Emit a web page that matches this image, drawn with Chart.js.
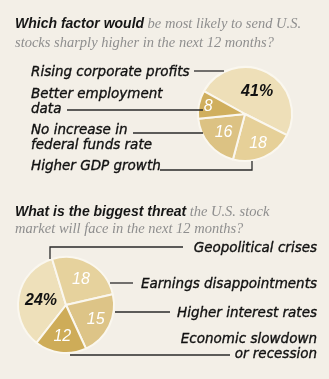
<!DOCTYPE html>
<html><head><meta charset="utf-8">
<script src="https://cdn.jsdelivr.net/npm/chart.js@4.4.1/dist/chart.umd.min.js"></script>
<style>
html,body{margin:0;padding:0;background:#f3efe7;}
#wrap{position:relative;width:329px;height:379px;overflow:hidden;background:#f3efe7;}
canvas{position:absolute;left:0;top:0;}
.t{position:absolute;left:15px;font-size:14px;line-height:18px;white-space:nowrap;z-index:2;}
.t b{font-family:"Liberation Sans",Arial,sans-serif;font-weight:bold;font-style:italic;color:#161616;}
.t span{font-family:"Liberation Serif",serif;font-style:italic;color:#8e8e8e;font-size:14.5px;}
.lb{position:absolute;font-family:"DejaVu Sans",sans-serif;font-style:oblique;font-size:13.5px;line-height:15px;color:#111;white-space:nowrap;z-index:2;-webkit-text-stroke:0.35px #111;}
.r{text-align:right;right:12px;}
.l{left:31px;}
</style></head>
<body><div id="wrap">
<canvas id="c1" width="329" height="379"></canvas>
<canvas id="c2" width="329" height="379"></canvas>
<div class="t" style="top:14px"><b>Which factor would</b> <span>be most likely to send U.S.<br>stocks sharply higher in the next 12 months?</span></div>
<div class="t" style="top:203px;line-height:16px"><b>What is the biggest threat</b> <span>the U.S. stock<br>market will face in the next 12 months?</span></div>
<div id="labels"></div>
</div>
<script>
// Pie 1 data
const factorLabels = ["Rising corporate profits", "Higher GDP growth", "No increase in federal funds rate", "Better employment data"];
const factorValues = [41, 18, 16, 8];
const factorText = ["41%", "18", "16", "8"];
// Pie 2 data
const threatLabels = ["Geopolitical crises", "Earnings disappointments", "Higher interest rates", "Economic slowdown or recession"];
const threatValues = [24, 18, 15, 12];
const threatText = ["24%", "18", "15", "12"];

// style
const colors1 = ["#eedfb8", "#e6d098", "#dcc283", "#d0af5e"];
const colors2 = ["#eee0ba", "#e6d29d", "#ddc487", "#ceac58"];
const textStyle1 = [{c:"#111",w:"bold"},{c:"#fff",w:"normal"},{c:"#fff",w:"normal"},{c:"#fff",w:"normal"}];
const textStyle2 = [{c:"#111",w:"bold"},{c:"#fff",w:"normal"},{c:"#fff",w:"normal"},{c:"#fff",w:"normal"}];
const labelRadius1 = [0.55, 0.68, 0.6, 0.8];
const labelRadius2 = [0.53, 0.62, 0.69, 0.66];

// leader lines (page px) and label placement
const leaders1 = [[[194,71],[224,71]], [[67,110],[203,110]], [[133,133],[203,133]], [[160,170],[252,170],[252,161]]];
const leaders2 = [[[183,247],[50,247],[50,259]], [[110,283],[133,283]], [[115,312],[170,312]], [[70,355],[230,355]]];

const labelHtml = [
  {cls:"lb l", top:64, html:"Rising corporate profits"},
  {cls:"lb l", top:86, html:"Better employment<br>data"},
  {cls:"lb l", top:122, html:"No increase in<br>federal funds rate"},
  {cls:"lb l", top:158, html:"Higher GDP growth"},
  {cls:"lb r", top:240, html:"Geopolitical crises"},
  {cls:"lb r", top:276, html:"Earnings disappointments"},
  {cls:"lb r", top:305, html:"Higher interest rates"},
  {cls:"lb r", top:331, html:"Economic slowdown<br>or recession"}
];
const lw = document.getElementById("labels");
labelHtml.forEach(o => { const d = document.createElement("div"); d.className = o.cls; d.style.top = o.top + "px"; d.innerHTML = o.html; lw.appendChild(d); });

function sliceTextPlugin(texts, styles, radii, leaders) {
  return {
    id: "sliceText",
    afterDatasetsDraw(chart) {
      const ctx = chart.ctx;
      const meta = chart.getDatasetMeta(0);
      ctx.save();
      ctx.strokeStyle = "#2a2a2a";
      ctx.lineWidth = 1.3;
      leaders.forEach(pts => {
        ctx.beginPath();
        pts.forEach((p, i) => i ? ctx.lineTo(p[0], p[1]) : ctx.moveTo(p[0], p[1]));
        ctx.stroke();
      });
      meta.data.forEach((arc, i) => {
        const p = arc.getProps(["x","y","startAngle","endAngle","outerRadius"], true);
        const mid = (p.startAngle + p.endAngle) / 2;
        const r = p.outerRadius * radii[i];
        const x = p.x + Math.cos(mid) * r, y = p.y + Math.sin(mid) * r;
        ctx.font = "italic " + styles[i].w + " 16px 'Liberation Sans', Arial, sans-serif";
        ctx.fillStyle = styles[i].c;
        ctx.textAlign = "center";
        ctx.textBaseline = "middle";
        ctx.fillText(texts[i], x, y);
      });
      ctx.restore();
    }
  };
}

function makePie(id, labels, values, colors, rotation, padding, plugin) {
  return new Chart(document.getElementById(id), {
    type: "pie",
    data: { labels: labels, datasets: [{ data: values, backgroundColor: colors, borderColor: "#faf7ef", borderWidth: 2 }] },
    options: {
      responsive: false, animation: false, devicePixelRatio: 1,
      rotation: rotation,
      layout: { padding: padding },
      plugins: { legend: { display: false }, tooltip: { enabled: false } }
    },
    plugins: [plugin]
  });
}

makePie("c1", factorLabels, factorValues, colors1, -61, {left:197, right:36, top:66, bottom:217},
  sliceTextPlugin(factorText, textStyle1, labelRadius1, leaders1));
makePie("c2", threatLabels, threatValues, colors2, 218, {left:17, right:214, top:256, bottom:25},
  sliceTextPlugin(threatText, textStyle2, labelRadius2, leaders2));
</script>
</body></html>
